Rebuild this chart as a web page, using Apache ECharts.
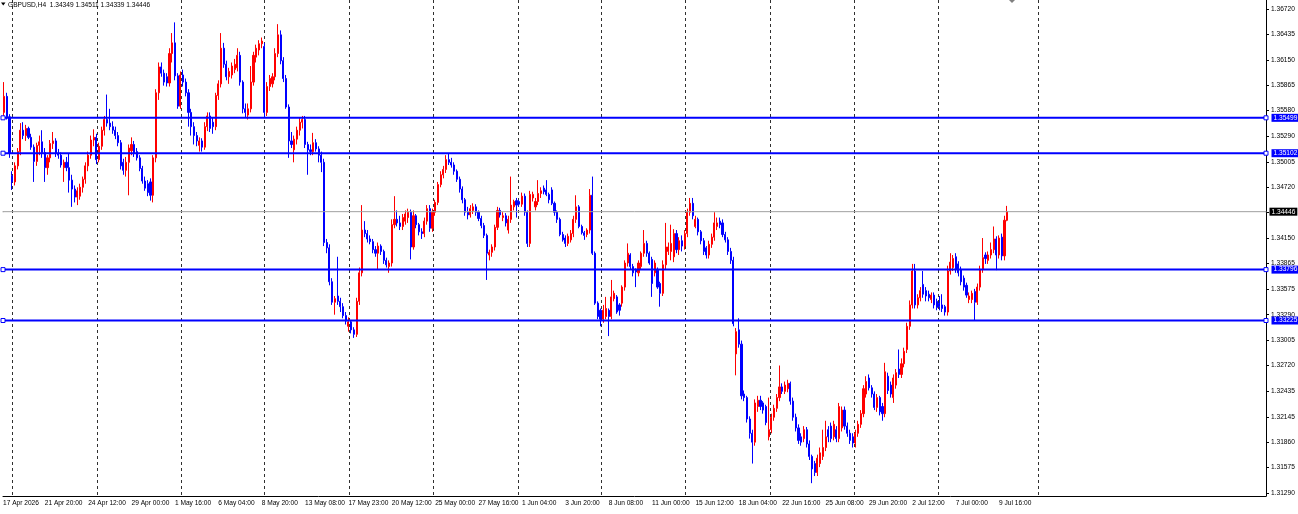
<!DOCTYPE html>
<html>
<head>
<meta charset="utf-8">
<style>
html,body{margin:0;padding:0;background:#fff;}
#chart{width:1298px;height:514px;}
</style>
<script src="https://cdn.jsdelivr.net/npm/echarts@6/dist/echarts.min.js"></script>
</head>
<body>
<div id="chart"></div>
<script>
// ---- DATA (H4 candles as [open, high, low, close]) ----
const symbolName = 'GBPUSD,H4';

const candlesA = [
[1.3553,1.3600,1.3548,1.3574],[1.3556,1.3590,1.3550,1.3574],[1.3574,1.3578,1.3548,1.3551],[1.3551,1.3554,1.3505,1.3510],
[1.3485,1.3490,1.3469,1.3478],[1.3478,1.3500,1.3474,1.3496],[1.3496,1.3516,1.3492,1.3512],[1.3512,1.3544,1.3508,1.3536],
[1.3536,1.3545,1.3526,1.3530],[1.3530,1.3542,1.3524,1.3538],[1.3538,1.3540,1.3526,1.3528],[1.3528,1.3532,1.3514,1.3517],
[1.3517,1.3520,1.3478,1.3501],[1.3501,1.3522,1.3496,1.3519],[1.3519,1.3530,1.3508,1.3523],[1.3523,1.3536,1.3505,1.3511],
[1.3511,1.3516,1.3478,1.3494],[1.3494,1.3508,1.3486,1.3505],[1.3505,1.3525,1.3500,1.3521],[1.3521,1.3534,1.3515,1.3524],
[1.3524,1.3527,1.3506,1.3510],[1.3510,1.3515,1.3504,1.3508],[1.3508,1.3511,1.3494,1.3497],[1.3494,1.3503,1.3478,1.3500],
[1.3500,1.3506,1.3490,1.3494],[1.3494,1.3510,1.3466,1.3480],[1.3480,1.3486,1.3450,1.3470],[1.3470,1.3474,1.3455,1.3461],
[1.3461,1.3472,1.3452,1.3468],[1.3462,1.3476,1.3458,1.3472],[1.3472,1.3484,1.3466,1.3481],[1.3481,1.3500,1.3476,1.3496],
[1.3496,1.3512,1.3490,1.3508],[1.3508,1.3530,1.3504,1.3525],[1.3525,1.3537,1.3518,1.3528],[1.3528,1.3532,1.3498,1.3503],
[1.3503,1.3522,1.3500,1.3518],[1.3518,1.3540,1.3514,1.3536],[1.3536,1.3552,1.3530,1.3548],[1.3548,1.3576,1.3540,1.3544],
[1.3544,1.3560,1.3536,1.3540],[1.3540,1.3546,1.3532,1.3536],[1.3536,1.3540,1.3526,1.3530],[1.3530,1.3534,1.3518,1.3522],
[1.3522,1.3525,1.3492,1.3496],[1.3500,1.3504,1.3486,1.3491],[1.3491,1.3506,1.3484,1.3500],[1.3500,1.3520,1.3463,1.3516],
[1.3513,1.3528,1.3508,1.3520],[1.3520,1.3524,1.3506,1.3510],[1.3512,1.3516,1.3502,1.3505],[1.3505,1.3508,1.3490,1.3493],
[1.3493,1.3496,1.3476,1.3479],[1.3479,1.3484,1.3468,1.3471],[1.3476,1.3480,1.3462,1.3466],[1.3478,1.3482,1.3457,1.3463],
[1.3463,1.3508,1.3455,1.3505],[1.3505,1.3582,1.3500,1.3578],[1.3578,1.3612,1.3570,1.3607],[1.3607,1.3612,1.3596,1.3600],
[1.3600,1.3604,1.3586,1.3590],[1.3596,1.3600,1.3585,1.3589],[1.3589,1.3628,1.3585,1.3622],[1.3622,1.3645,1.3612,1.3634]
];

const candlesB = [
[1.3634,1.3657,1.3592,1.3597],[1.3597,1.3600,1.3560,1.3563],[1.3563,1.3602,1.3560,1.3598],[1.3598,1.3604,1.3585,1.3590],
[1.3590,1.3594,1.3574,1.3578],[1.3578,1.3582,1.3540,1.3556],[1.3556,1.3560,1.3530,1.3540],[1.3540,1.3545,1.3520,1.3530],
[1.3530,1.3534,1.3518,1.3524],[1.3519,1.3528,1.3512,1.3524],[1.3524,1.3527,1.3512,1.3517],[1.3517,1.3545,1.3514,1.3540],
[1.3540,1.3556,1.3535,1.3552],[1.3552,1.3556,1.3534,1.3538],[1.3545,1.3550,1.3532,1.3540],[1.3540,1.3578,1.3536,1.3575],
[1.3575,1.3592,1.3570,1.3588],[1.3588,1.3645,1.3584,1.3628],[1.3628,1.3634,1.3606,1.3610],[1.3610,1.3614,1.3592,1.3596],
[1.3596,1.3606,1.3588,1.3602],[1.3598,1.3612,1.3594,1.3608],[1.3604,1.3616,1.3600,1.3610],[1.3606,1.3628,1.3602,1.3620],
[1.3620,1.3624,1.3586,1.3590],[1.3590,1.3592,1.3555,1.3560],[1.3560,1.3566,1.3550,1.3556],[1.3553,1.3566,1.3548,1.3560],
[1.3560,1.3608,1.3556,1.3590],[1.3590,1.3624,1.3586,1.3620],[1.3618,1.3632,1.3612,1.3628],[1.3626,1.3637,1.3620,1.3633],
[1.3633,1.3640,1.3628,1.3636],[1.3630,1.3634,1.3550,1.3556],[1.3556,1.3590,1.3552,1.3585],[1.3585,1.3598,1.3580,1.3594],
[1.3588,1.3600,1.3584,1.3596],[1.3596,1.3628,1.3592,1.3622],[1.3622,1.3655,1.3618,1.3643],[1.3643,1.3648,1.3610,1.3614],
[1.3614,1.3618,1.3590,1.3594],[1.3594,1.3598,1.3560,1.3562],[1.3562,1.3565,1.3505,1.3524],[1.3524,1.3534,1.3516,1.3520],
[1.3514,1.3530,1.3500,1.3526],[1.3526,1.3540,1.3520,1.3536],[1.3536,1.3550,1.3530,1.3545],[1.3545,1.3552,1.3538,1.3548],
[1.3548,1.3552,1.3516,1.3520],[1.3520,1.3523,1.3486,1.3514],[1.3514,1.3520,1.3508,1.3512],[1.3512,1.3533,1.3508,1.3522],
[1.3522,1.3526,1.3512,1.3515],[1.3515,1.3518,1.3500,1.3508],[1.3508,1.3512,1.3489,1.3500],[1.3500,1.3504,1.3406,1.3410],
[1.3410,1.3414,1.3398,1.3404],[1.3404,1.3408,1.3362,1.3366],[1.3366,1.3370,1.3340,1.3343],[1.3343,1.3350,1.3329,1.3347]
];

const candlesC = [
[1.3350,1.3394,1.3340,1.3344],[1.3344,1.3348,1.3332,1.3338],[1.3338,1.3342,1.3325,1.3328],[1.3328,1.3332,1.3318,1.3322],
[1.3316,1.3326,1.3310,1.3321],[1.3321,1.3323,1.3308,1.3312],[1.3312,1.3315,1.3303,1.3307],[1.3307,1.3348,1.3304,1.3344],
[1.3344,1.3382,1.3340,1.3376],[1.3376,1.3452,1.3372,1.3424],[1.3424,1.3434,1.3416,1.3420],[1.3420,1.3424,1.3410,1.3414],
[1.3414,1.3418,1.3408,1.3411],[1.3411,1.3414,1.3398,1.3402],[1.3402,1.3406,1.3394,1.3398],[1.3398,1.3410,1.3380,1.3406],
[1.3406,1.3408,1.3396,1.3400],[1.3400,1.3402,1.3386,1.3390],[1.3390,1.3393,1.3382,1.3385],[1.3383,1.3390,1.3376,1.3387],
[1.3387,1.3436,1.3383,1.3430],[1.3430,1.3462,1.3426,1.3436],[1.3436,1.3446,1.3428,1.3432],[1.3432,1.3440,1.3424,1.3428],
[1.3428,1.3442,1.3424,1.3438],[1.3434,1.3446,1.3430,1.3442],[1.3438,1.3448,1.3432,1.3444],[1.3444,1.3447,1.3391,1.3405],
[1.3405,1.3446,1.3402,1.3440],[1.3440,1.3442,1.3426,1.3430],[1.3430,1.3432,1.3418,1.3422],[1.3422,1.3426,1.3414,1.3420],
[1.3420,1.3438,1.3416,1.3434],[1.3434,1.3452,1.3430,1.3448],[1.3448,1.3452,1.3422,1.3426],[1.3426,1.3448,1.3422,1.3444],
[1.3444,1.3458,1.3440,1.3455],[1.3455,1.3478,1.3452,1.3475],[1.3475,1.3490,1.3472,1.3486],[1.3486,1.3496,1.3482,1.3492],
[1.3492,1.3508,1.3488,1.3503],[1.3503,1.3510,1.3497,1.3500],[1.3500,1.3505,1.3494,1.3497],[1.3497,1.3500,1.3486,1.3490],
[1.3490,1.3492,1.3478,1.3481],[1.3481,1.3484,1.3466,1.3470],[1.3470,1.3473,1.3454,1.3458],[1.3458,1.3460,1.3440,1.3444],
[1.3444,1.3450,1.3436,1.3441],[1.3441,1.3452,1.3438,1.3448],[1.3446,1.3454,1.3442,1.3450],[1.3450,1.3453,1.3440,1.3444],
[1.3444,1.3446,1.3434,1.3437],[1.3437,1.3440,1.3426,1.3429],[1.3429,1.3432,1.3415,1.3418],[1.3418,1.3420,1.3368,1.3398],
[1.3396,1.3402,1.3390,1.3399],[1.3399,1.3408,1.3394,1.3405],[1.3405,1.3430,1.3401,1.3427],[1.3427,1.3450,1.3424,1.3446],
[1.3446,1.3449,1.3438,1.3441],[1.3438,1.3444,1.3434,1.3440],[1.3440,1.3443,1.3428,1.3432]
];

const candlesD = [
[1.3424,1.3440,1.3420,1.3436],[1.3436,1.3484,1.3432,1.3452],[1.3450,1.3458,1.3446,1.3456],[1.3457,1.3460,1.3438,1.3452],
[1.3456,1.3458,1.3450,1.3453],[1.3453,1.3466,1.3450,1.3462],[1.3462,1.3465,1.3440,1.3444],[1.3444,1.3446,1.3405,1.3409],
[1.3409,1.3468,1.3405,1.3464],[1.3460,1.3467,1.3456,1.3464],[1.3450,1.3460,1.3446,1.3456],[1.3456,1.3480,1.3452,1.3465],
[1.3465,1.3472,1.3460,1.3468],[1.3471,1.3474,1.3464,1.3467],[1.3469,1.3480,1.3462,1.3464],[1.3464,1.3466,1.3454,1.3458],
[1.3469,1.3472,1.3452,1.3454],[1.3454,1.3456,1.3440,1.3444],[1.3444,1.3446,1.3432,1.3436],[1.3436,1.3438,1.3417,1.3419],
[1.3419,1.3422,1.3411,1.3413],[1.3415,1.3418,1.3405,1.3409],[1.3409,1.3420,1.3406,1.3417],[1.3413,1.3424,1.3410,1.3420],
[1.3420,1.3440,1.3416,1.3436],[1.3436,1.3463,1.3432,1.3450],[1.3450,1.3452,1.3426,1.3428],[1.3428,1.3430,1.3419,1.3421],
[1.3421,1.3423,1.3413,1.3418],[1.3419,1.3426,1.3416,1.3424],[1.3424,1.3470,1.3420,1.3463],[1.3463,1.3484,1.3396,1.3398],
[1.3398,1.3400,1.3340,1.3342],[1.3342,1.3344,1.3324,1.3327],[1.3334,1.3336,1.3316,1.3324],[1.3324,1.3340,1.3320,1.3334],
[1.3327,1.3349,1.3324,1.3336],[1.3334,1.3336,1.3305,1.3327],[1.3327,1.3368,1.3324,1.3349],[1.3347,1.3356,1.3344,1.3353],
[1.3349,1.3351,1.3330,1.3332],[1.3340,1.3342,1.3328,1.3334],[1.3342,1.3362,1.3338,1.3360],[1.3360,1.3390,1.3356,1.3387],
[1.3387,1.3409,1.3383,1.3398],[1.3396,1.3398,1.3380,1.3383],[1.3383,1.3386,1.3372,1.3376],[1.3379,1.3381,1.3360,1.3377],
[1.3376,1.3390,1.3372,1.3387],[1.3383,1.3400,1.3380,1.3398],[1.3398,1.3424,1.3394,1.3409],[1.3409,1.3412,1.3394,1.3398],
[1.3398,1.3400,1.3385,1.3387],[1.3391,1.3394,1.3349,1.3364],[1.3376,1.3390,1.3372,1.3387],[1.3379,1.3382,1.3358,1.3360],
[1.3364,1.3366,1.3338,1.3353],[1.3353,1.3390,1.3350,1.3385],[1.3385,1.3432,1.3380,1.3405],[1.3400,1.3410,1.3396,1.3405],
[1.3400,1.3430,1.3390,1.3409]
];

const candlesE = [
[1.3394,1.3425,1.3388,1.3420],[1.3420,1.3424,1.3398,1.3402],[1.3402,1.3416,1.3396,1.3412],[1.3412,1.3418,1.3400,1.3406],
[1.3406,1.3424,1.3402,1.3420],[1.3420,1.3448,1.3416,1.3444],[1.3444,1.3460,1.3440,1.3454],[1.3454,1.3460,1.3436,1.3440],
[1.3428,1.3440,1.3426,1.3436],[1.3436,1.3438,1.3418,1.3422],[1.3422,1.3424,1.3408,1.3412],[1.3412,1.3415,1.3396,1.3400],
[1.3404,1.3406,1.3392,1.3396],[1.3396,1.3412,1.3392,1.3408],[1.3408,1.3420,1.3404,1.3416],[1.3416,1.3444,1.3412,1.3432],
[1.3428,1.3438,1.3424,1.3432],[1.3434,1.3438,1.3426,1.3430],[1.3432,1.3436,1.3416,1.3419],[1.3419,1.3422,1.3410,1.3413],
[1.3413,1.3416,1.3396,1.3400],[1.3400,1.3404,1.3386,1.3390],[1.3390,1.3394,1.3316,1.3319],[1.3285,1.3314,1.3261,1.3310],
[1.3312,1.3325,1.3292,1.3296],[1.3296,1.3300,1.3234,1.3238],[1.3240,1.3244,1.3232,1.3236],[1.3236,1.3238,1.3208,1.3212],
[1.3212,1.3215,1.3190,1.3196],[1.3196,1.3200,1.3162,1.3186],[1.3186,1.3234,1.3182,1.3230],[1.3226,1.3238,1.3220,1.3233],
[1.3233,1.3238,1.3222,1.3226],[1.3230,1.3232,1.3218,1.3222],[1.3226,1.3228,1.3205,1.3208],[1.3192,1.3236,1.3188,1.3200],
[1.3200,1.3218,1.3196,1.3214],[1.3214,1.3228,1.3210,1.3224],[1.3224,1.3240,1.3220,1.3236],[1.3236,1.3272,1.3232,1.3248],
[1.3248,1.3252,1.3240,1.3243],[1.3243,1.3254,1.3240,1.3250],[1.3246,1.3256,1.3242,1.3252],[1.3252,1.3254,1.3228,1.3232],
[1.3232,1.3236,1.3210,1.3214],[1.3214,1.3218,1.3198,1.3202],[1.3202,1.3206,1.3184,1.3188],[1.3192,1.3196,1.3182,1.3186],
[1.3190,1.3204,1.3186,1.3200],[1.3200,1.3203,1.3180,1.3184],[1.3184,1.3188,1.3166,1.3170],[1.3170,1.3172,1.3140,1.3156],
[1.3162,1.3165,1.3148,1.3152],[1.3152,1.3172,1.3148,1.3168],[1.3162,1.3180,1.3158,1.3174],[1.3170,1.3200,1.3166,1.3180],
[1.3180,1.3210,1.3176,1.3192],[1.3200,1.3204,1.3186,1.3192],[1.3204,1.3208,1.3186,1.3190],[1.3192,1.3210,1.3188,1.3206],
[1.3200,1.3204,1.3186,1.3190],[1.3190,1.3230,1.3186,1.3226]
];

const candlesF = [
[1.3202,1.3226,1.3198,1.3222],[1.3222,1.3226,1.3200,1.3204],[1.3204,1.3208,1.3192,1.3196],[1.3196,1.3200,1.3184,1.3188],
[1.3192,1.3196,1.3180,1.3185],[1.3185,1.3200,1.3180,1.3196],[1.3196,1.3210,1.3192,1.3206],[1.3206,1.3222,1.3202,1.3218],
[1.3218,1.3250,1.3214,1.3246],[1.3240,1.3260,1.3236,1.3254],[1.3258,1.3262,1.3244,1.3247],[1.3247,1.3250,1.3236,1.3240],
[1.3240,1.3243,1.3222,1.3225],[1.3225,1.3240,1.3220,1.3236],[1.3236,1.3238,1.3216,1.3220],[1.3226,1.3230,1.3210,1.3218],
[1.3218,1.3275,1.3214,1.3265],[1.3260,1.3264,1.3240,1.3244],[1.3250,1.3254,1.3236,1.3240],[1.3236,1.3262,1.3230,1.3258],
[1.3250,1.3268,1.3246,1.3264],[1.3268,1.3290,1.3258,1.3262],[1.3262,1.3280,1.3258,1.3274],[1.3274,1.3292,1.3270,1.3288],
[1.3290,1.3320,1.3286,1.3316],[1.3316,1.3345,1.3312,1.3340],[1.3340,1.3386,1.3336,1.3378],[1.3378,1.3386,1.3336,1.3340],
[1.3340,1.3352,1.3336,1.3348],[1.3348,1.3360,1.3344,1.3356],[1.3363,1.3378,1.3348,1.3352],[1.3356,1.3360,1.3344,1.3350],
[1.3352,1.3356,1.3344,1.3348],[1.3346,1.3354,1.3342,1.3351],[1.3351,1.3354,1.3336,1.3340],[1.3344,1.3347,1.3334,1.3337],
[1.3342,1.3350,1.3334,1.3338],[1.3340,1.3352,1.3332,1.3336],[1.3338,1.3340,1.3328,1.3332],[1.3332,1.3384,1.3328,1.3378],
[1.3378,1.3398,1.3374,1.3388],[1.3382,1.3396,1.3378,1.3392],[1.3394,1.3398,1.3376,1.3380],[1.3386,1.3389,1.3372,1.3376],
[1.3380,1.3383,1.3362,1.3366],[1.3370,1.3373,1.3356,1.3360],[1.3362,1.3365,1.3348,1.3351],[1.3346,1.3354,1.3342,1.3350],
[1.3346,1.3356,1.3342,1.3353],[1.3355,1.3358,1.3322,1.3343],[1.3343,1.3364,1.3340,1.3360],[1.3360,1.3384,1.3356,1.3380],
[1.3380,1.3415,1.3376,1.3393],[1.3396,1.3399,1.3386,1.3392],[1.3390,1.3400,1.3386,1.3396],[1.3396,1.3410,1.3392,1.3402],
[1.3402,1.3428,1.3398,1.3414],[1.3414,1.3417,1.3379,1.3396],[1.3396,1.3418,1.3392,1.3415],[1.3416,1.3420,1.3390,1.3395],
[1.3395,1.3440,1.3390,1.3435],[1.34349,1.34511,1.34339,1.34446]
];

// Time-axis tick labels (one every 16 bars)
const timeLabels = ['17 Apr 2026','21 Apr 20:00','24 Apr 12:00','29 Apr 00:00','1 May 16:00','6 May 04:00','8 May 20:00',
  '13 May 08:00','17 May 23:00','20 May 12:00','25 May 00:00','27 May 16:00','1 Jun 04:00','3 Jun 20:00','8 Jun 08:00',
  '11 Jun 00:00','15 Jun 12:00','18 Jun 04:00','22 Jun 16:00','25 Jun 08:00','29 Jun 20:00','2 Jul 12:00','7 Jul 00:00','9 Jul 16:00'];

// Price-axis tick labels
const priceTicks = [1.36720,1.36435,1.36150,1.35865,1.35580,1.35290,1.35005,1.34720,1.34435,1.34150,
  1.33865,1.33575,1.33290,1.33005,1.32720,1.32435,1.32145,1.31860,1.31575,1.31290];

// Horizontal levels drawn on the chart
const levels = [1.35499, 1.35102, 1.33796, 1.33225];

// ---- LAYOUT ----
const ohlc = [].concat(candlesA, candlesB, candlesC, candlesD, candlesE, candlesF);
const labelEvery = 16;
const xMin = 0.589, xMax = 466.46;            // visible bar-index window (chart shift on the right)
const labelSlots = timeLabels.map((_, k) => Math.max(k * labelEvery, xMin));
const gridSlots = [4.08, 35.18, 66.27, 97.0, 128.28, 159.2, 190.5, 221.38, 252.3, 283.57, 314.48, 345.39, 382.55];

const seriesData = ohlc.map((r, i) => [i, r[0], r[3], r[2], r[1]]);
const last = ohlc[ohlc.length - 1];
const bid = last[3];
const FONT = "'Liberation Sans', Arial, sans-serif";
const FS = 6.6;

function levelSeries(v, color, width, boxColor, marker) {
  const sym = marker ? {symbol: 'rect', symbolSize: 4} : {symbol: 'rect', symbolSize: 1};
  return {
    type: 'line', silent: true, z: 5,
    data: [
      Object.assign({value: [xMin, v]}, sym),
      Object.assign({value: [xMax, v],
        label: {show: true, position: 'right', distance: 3, formatter: () => v.toFixed(5),
          backgroundColor: boxColor, color: '#ffffff', fontSize: FS, fontFamily: FONT,
          padding: [1, 2, 0, 2], lineHeight: 7}}, sym)
    ],
    showSymbol: true, clip: false,
    lineStyle: {color: color, width: width, type: 'solid'},
    itemStyle: {color: marker ? '#ffffff' : color, borderColor: color, borderWidth: marker ? 1 : 0},
    emphasis: {disabled: true}
  };
}

const chart = echarts.init(document.getElementById('chart'), null, {renderer: 'canvas'});
const option = {
  animation: false,
  backgroundColor: '#ffffff',
  textStyle: {fontFamily: FONT},
  title: {
    text: symbolName + '  ' + last.map(v => v.toFixed(5)).join(' '),
    left: 8, top: 1.5, padding: 0,
    textStyle: {fontSize: FS, fontWeight: 'normal', color: '#000', fontFamily: FONT}
  },
  graphic: [
    {type: 'polygon', shape: {points: [[1, 2.5], [5.5, 2.5], [3.25, 5.5]]}, style: {fill: '#000'}},
    {type: 'polygon', shape: {points: [[1009, 0], [1015, 0], [1012, 3]]}, style: {fill: '#808080'}}
  ],
  grid: {left: 0, top: 0, right: 32, height: 496, containLabel: false},
  xAxis: {
    type: 'value', min: xMin, max: xMax,
    axisLine: {show: true, onZero: false, lineStyle: {color: '#000', width: 1}},
    axisTick: {show: false, customValues: gridSlots},
    splitLine: {show: true, lineStyle: {color: '#303030', width: 1, type: [3, 3]}},
    axisLabel: {
      show: true, customValues: labelSlots, align: 'left', margin: 4,
      fontSize: FS, color: '#000', fontFamily: FONT,
      formatter: v => timeLabels[Math.round(v / labelEvery)] || ''
    }
  },
  yAxis: {
    type: 'value', position: 'right', min: 1.31256, max: 1.36821,
    axisLine: {show: true, onZero: false, lineStyle: {color: '#000', width: 1}},
    axisTick: {show: true, length: 3, inside: false, customValues: priceTicks, lineStyle: {color: '#000'}},
    axisLabel: {customValues: priceTicks, formatter: v => v.toFixed(5), margin: 5,
      fontSize: FS, color: '#000', fontFamily: FONT},
    splitLine: {show: false}
  },
  series: [{
    type: 'candlestick',
    data: seriesData,
    encode: {x: 0, y: [1, 2, 3, 4]},
    barWidth: 1.6,
    itemStyle: {color: '#ff0000', color0: '#0000ff', borderColor: '#ff0000', borderColor0: '#0000ff', borderWidth: 1}
  },
  levelSeries(bid, '#a0a0a0', 1, '#000000', false)
  ].concat(levels.map(v => levelSeries(v, '#0000ff', 2, '#0000ff', true)))
};
chart.setOption(option);
</script>
</body>
</html>
